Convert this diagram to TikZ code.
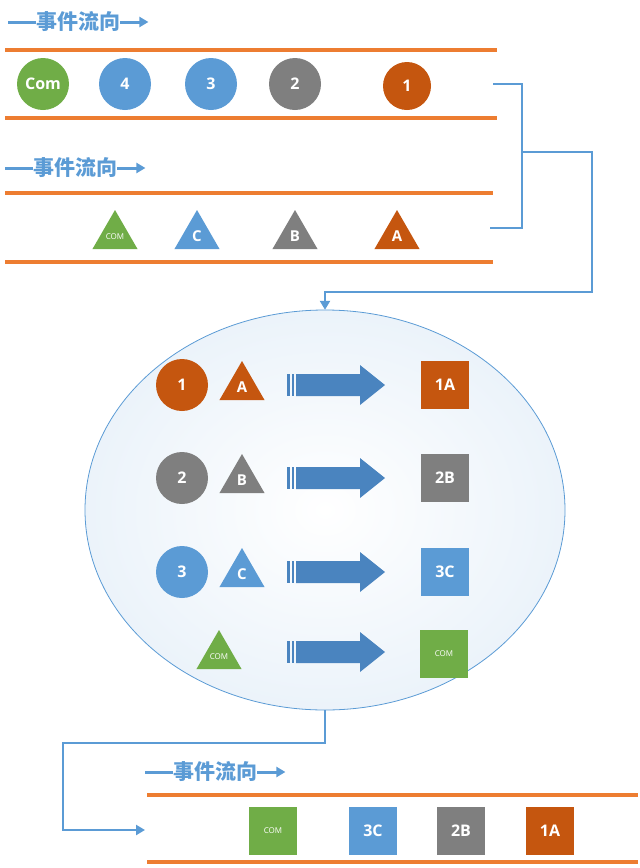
\documentclass[tikz,border=0pt]{standalone}
\usepackage{fontspec}
\setmainfont{Open Sans}
\newfontfamily\cjk{Noto Sans CJK SC}[BoldFont={* Black}]
\usetikzlibrary{shapes.geometric,arrows.meta}
\definecolor{cor}{HTML}{C5560F}
\definecolor{cbl}{HTML}{5B9BD5}
\definecolor{cgr}{HTML}{7F7F7F}
\definecolor{cgn}{HTML}{70AD47}
\definecolor{cln}{HTML}{ED7D31}
\definecolor{car}{HTML}{4A84BF}
\begin{document}
\begin{tikzpicture}[x=1pt,y=-1pt,
  circ/.style={circle,fill=#1,minimum size=52pt,inner sep=0,text=white,font=\bfseries\fontsize{16}{16}\selectfont},
  tri/.style={regular polygon,regular polygon sides=3,fill=#1,minimum size=52pt,inner sep=0,text=white,font=\bfseries\fontsize{15}{15}\selectfont},
  sq/.style={rectangle,fill=#1,minimum size=48pt,inner sep=0,text=white,font=\bfseries\fontsize{16}{16}\selectfont},
  oline/.style={cln,line width=4.5pt},
  conn/.style={cbl,line width=2.5pt},
  ttl/.style={text=cbl,font=\cjk\bfseries\fontsize{21}{21}\selectfont,inner sep=0}]
\useasboundingbox (0,0) rectangle (640,868);
\newcommand{\flowtitle}[3]{%
  \node[ttl,anchor=west] (#3) at (#1+28,#2) {事件流向};
  \draw[cbl,line width=3pt] (#1,#2) -- (#3.west);
  \draw[cbl,line width=3pt,-{Triangle[length=9pt,width=10pt]}] (#3.east) -- ++(28,0);}
\flowtitle{8}{22}{t1}
\flowtitle{5}{168}{t2}
\flowtitle{145}{772}{t3}
\draw[oline] (5,50) -- (497,50);
\draw[oline] (5,118) -- (497,118);
\draw[oline] (5,193) -- (493,193);
\draw[oline] (5,262) -- (493,262);
\draw[oline] (147,795) -- (638,795);
\draw[oline] (147,862) -- (638,862);
\node[circ=cgn] (c0) at (43,84) {Com};
\node[circ=cbl] (c4) at (125,84) {4};
\node[circ=cbl] (c3) at (211,84) {3};
\node[circ=cgr] (c2) at (295,84) {2};
\node[circ=cor,minimum size=48pt] (c1) at (407,86) {1};
\node[tri=cgn,font=\fontsize{8}{8}\selectfont] (a0) at (115,236) {\raisebox{-7pt}{COM}};
\node[tri=cbl] (aC) at (197,236) {\raisebox{-5pt}{C}};
\node[tri=cgr] (aB) at (295,236) {\raisebox{-5pt}{B}};
\node[tri=cor] (aA) at (397,236) {\raisebox{-5pt}{A}};
\coordinate (k1) at (493,84);
\coordinate (k2) at (490,228);
\draw[conn] (k1) -| (522,228) -- (k2);
\shade[inner color=white,outer color=cbl!12,draw=cbl,line width=0.8pt] (325,510) ellipse [x radius=240,y radius=200];
\node[inner sep=0,minimum size=0] (ell) at (325,310) {};
\node[inner sep=0,minimum size=0] (ellb) at (325,710) {};
\draw[conn,-{Triangle[length=9pt,width=10pt]}] (522,152) -| (592,292) -| (ell);
\newcommand{\prow}[7]{%
  \node[circ=#2] (p#7) at (182,#1) {#3};
  \node[tri=#2] (q#7) at (242,#1+2) {\raisebox{-5pt}{#4}};
  \fill[car] (287,#1-11) rectangle (290,#1+11);
  \fill[car] (292,#1-11) rectangle (294,#1+11);
  \fill[car] (296,#1-11) -- (360,#1-11) -- (360,#1-20) -- (385,#1) -- (360,#1+20) -- (360,#1+11) -- (296,#1+11) -- cycle;
  \node[sq=#5,#6] (r#7) at (445,#1) {#3#4};}
\prow{385}{cor}{1}{A}{cor}{}{1}
\prow{478}{cgr}{2}{B}{cgr}{}{2}
\prow{572}{cbl}{3}{C}{cbl}{}{3}
\node[tri=cgn,font=\fontsize{8}{8}\selectfont] (q4) at (219,656) {\raisebox{-7pt}{COM}};
\fill[car] (287,641) rectangle (290,663);
\fill[car] (292,641) rectangle (294,663);
\fill[car] (296,641) -- (360,641) -- (360,632) -- (385,652) -- (360,672) -- (360,663) -- (296,663) -- cycle;
\node[sq=cgn,font=\fontsize{8}{8}\selectfont] (r4) at (444,654) {COM};
\coordinate (e3) at (145,830);
\draw[conn,-{Triangle[length=9pt,width=10pt]}] (ellb) -- (325,743) -| (63,830) -- (e3);
\node[sq=cgn,font=\fontsize{8}{8}\selectfont] (b0) at (273,831) {COM};
\node[sq=cbl] (b1) at (373,831) {3C};
\node[sq=cgr] (b2) at (461,831) {2B};
\node[sq=cor] (b3) at (550,831) {1A};
\end{tikzpicture}
\end{document}
